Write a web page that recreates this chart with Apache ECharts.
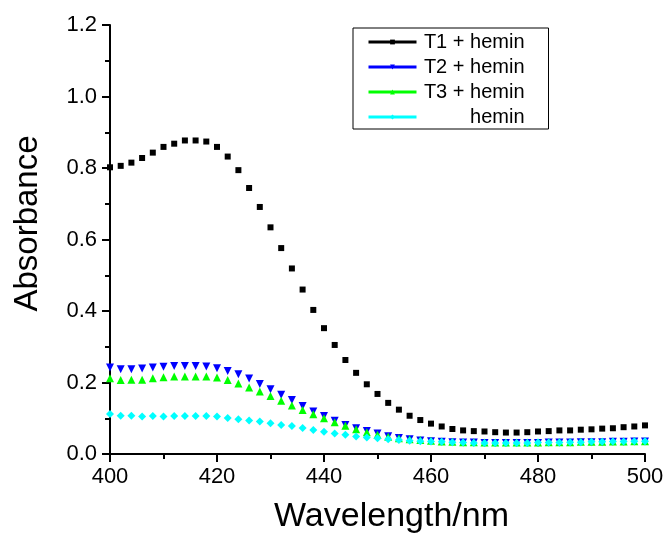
<!DOCTYPE html>
<html>
<head>
<meta charset="utf-8">
<script src="https://cdn.jsdelivr.net/npm/echarts@6/dist/echarts.min.js"></script>
<style>html,body{margin:0;padding:0;background:#fff}#chart{width:669px;height:539px}</style>
</head>
<body>
<div id="chart"></div>
<script>
var wavelengths = [400,402,404,406,408,410,412,414,416,418,420,422,424,426,428,430,432,434,436,438,440,442,444,446,448,450,452,454,456,458,460,462,464,466,468,470,472,474,476,478,480,482,484,486,488,490,492,494,496,498,500];
var t1Hemin = [0.802,0.806,0.815,0.828,0.843,0.859,0.868,0.877,0.877,0.874,0.859,0.832,0.794,0.744,0.691,0.634,0.576,0.519,0.460,0.403,0.352,0.305,0.263,0.227,0.195,0.168,0.143,0.124,0.107,0.095,0.085,0.077,0.070,0.066,0.064,0.063,0.061,0.060,0.060,0.061,0.063,0.064,0.066,0.066,0.068,0.069,0.071,0.072,0.075,0.077,0.080];
var t2Hemin = [0.242,0.237,0.237,0.239,0.242,0.244,0.246,0.246,0.246,0.245,0.240,0.232,0.223,0.211,0.196,0.181,0.166,0.151,0.134,0.119,0.106,0.093,0.081,0.072,0.064,0.057,0.050,0.045,0.041,0.038,0.036,0.034,0.033,0.032,0.032,0.031,0.031,0.031,0.031,0.031,0.031,0.032,0.032,0.032,0.033,0.033,0.033,0.034,0.034,0.035,0.035];
var t3Hemin = [0.212,0.207,0.208,0.208,0.212,0.215,0.217,0.217,0.217,0.217,0.214,0.207,0.197,0.186,0.175,0.162,0.149,0.136,0.123,0.111,0.100,0.089,0.079,0.069,0.061,0.054,0.048,0.044,0.041,0.039,0.037,0.035,0.034,0.033,0.033,0.032,0.032,0.032,0.032,0.032,0.032,0.033,0.033,0.033,0.034,0.034,0.034,0.035,0.035,0.036,0.036];
var hemin = [0.112,0.107,0.107,0.105,0.106,0.105,0.106,0.106,0.106,0.106,0.105,0.101,0.097,0.094,0.091,0.086,0.081,0.078,0.073,0.067,0.062,0.057,0.054,0.049,0.046,0.044,0.041,0.039,0.037,0.036,0.035,0.034,0.033,0.032,0.031,0.031,0.031,0.031,0.031,0.031,0.032,0.032,0.032,0.033,0.033,0.034,0.034,0.035,0.035,0.036,0.036];
var seriesNames = ['T1 + hemin','T2 + hemin','T3 + hemin','hemin'];
var xTicks = [400,420,440,460,480,500];
var yTicks = [0.0,0.2,0.4,0.6,0.8,1.0,1.2];

function pairs(vals){ return wavelengths.map(function(w,i){ return [w, vals[i]]; }); }
var FONT = '"Liberation Sans", Arial, sans-serif';

function mk(name, vals, color, symbol, size, rot){
  return {
    name: name, type: 'line', data: pairs(vals),
    symbol: symbol, symbolSize: size, symbolRotate: rot || 0, showSymbol: true,
    itemStyle: {color: color},
    lineStyle: {color: color, opacity: 0, width: 1},
    animation: false, silent: true
  };
}

var chart = echarts.init(document.getElementById('chart'));
chart.setOption({
  animation: false,
  grid: {left: 110, right: 24, top: 25, bottom: 82},
  legend: {
    orient: 'vertical', left: 353, top: 28,
    padding: [4, 24, 2, 14],
    itemWidth: 48, itemHeight: 6, itemGap: 5,
    borderColor: '#000', borderWidth: 1,
    lineStyle: {width: 3, opacity: 1},
    data: seriesNames,
    formatter: function(n){ return '{a|' + n + '}'; },
    textStyle: {fontFamily: FONT, fontSize: 20, color: '#000',
      rich: {a: {width: 103, align: 'right', fontFamily: FONT, fontSize: 20, color: '#000', lineHeight: 20}}}
  },
  xAxis: {
    type: 'value', min: xTicks[0], max: xTicks[xTicks.length-1], interval: 20,
    name: 'Wavelength/nm', nameLocation: 'middle', nameGap: 46,
    nameTextStyle: {fontFamily: FONT, fontSize: 34, color: '#000', padding: [0,0,0,28]},
    axisLine: {lineStyle: {color: '#000', width: 2}},
    axisTick: {inside: false, length: 8, lineStyle: {color: '#000', width: 2}},
    minorTick: {show: true, splitNumber: 2, length: 5, lineStyle: {color: '#000', width: 2}},
    splitLine: {show: false},
    axisLabel: {fontFamily: FONT, fontSize: 22, color: '#000', margin: 12}
  },
  yAxis: {
    type: 'value', min: yTicks[0], max: yTicks[yTicks.length-1], interval: 0.2,
    name: 'Absorbance', nameLocation: 'middle', nameGap: 66,
    nameTextStyle: {fontFamily: FONT, fontSize: 33, color: '#000', padding: [0,0,0,32]},
    axisLine: {lineStyle: {color: '#000', width: 2}},
    axisTick: {inside: false, length: 8, lineStyle: {color: '#000', width: 2}},
    minorTick: {show: true, splitNumber: 2, length: 5, lineStyle: {color: '#000', width: 2}},
    splitLine: {show: false},
    axisLabel: {fontFamily: FONT, fontSize: 22, color: '#000', margin: 13,
      formatter: function(v){ return v.toFixed(1); }}
  },
  series: [
    mk(seriesNames[0], t1Hemin, '#000000', 'rect', 6),
    mk(seriesNames[1], t2Hemin, '#0000ff', 'triangle', 8, 180),
    mk(seriesNames[2], t3Hemin, '#00ff00', 'triangle', 8),
    mk(seriesNames[3], hemin, '#00ffff', 'diamond', 8)
  ]
});
</script>
</body>
</html>
